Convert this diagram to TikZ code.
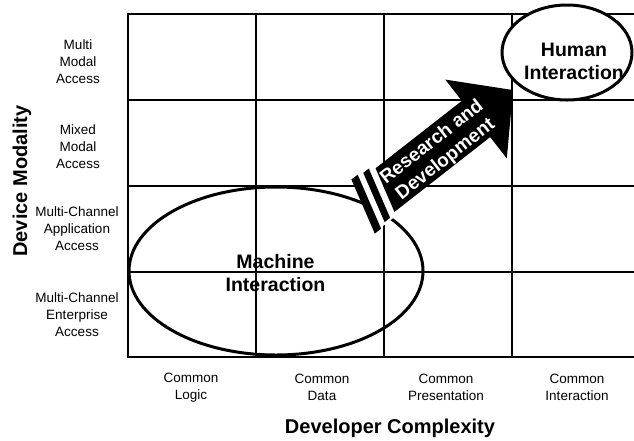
\documentclass[tikz,border=0pt]{standalone}
\usepackage{fontspec}
\setmainfont{Liberation Sans}
\usetikzlibrary{shapes.geometric}
\tikzset{
  gridline/.style={line width=2.6pt, line cap=rect},
  ring/.style={draw, ellipse, line width=3pt, inner sep=0pt},
  axislabel/.style={font=\fontsize{13.5}{17}\selectfont, align=center, inner sep=0pt},
  biglabel/.style={font=\fontsize{19.5}{23}\selectfont\bfseries, align=center, inner sep=0pt},
  arrowtext/.style={font=\fontsize{19}{22}\selectfont\bfseries, text=white, align=center, inner sep=0pt},
}
\begin{document}
\begin{tikzpicture}[x=1pt,y=-1pt]
\useasboundingbox (0,0) rectangle (634,440);
% grid
\foreach \yy in {14,100,186,272,357} \draw[gridline] (128,\yy) -- (634,\yy);
\foreach \xx in {128,256,384,512} \draw[gridline] (\xx,14) -- (\xx,357);
% ellipses
\node[ring, minimum width=294pt, minimum height=168pt] (machine) at (276,271) {};
\node[ring, fill=white, minimum width=130pt, minimum height=95pt] (human) at (567,52.5) {};
% arrow
\begin{scope}[shift={(384.6,190.4)}, rotate=38]
  \fill[white] (-12,-27) -- (8,-27) -- (-7,27) -- (-30,27) -- cycle;
  \fill[black] (-19.5,-29) -- (-11.5,-29) -- (-26.3,28) -- (-34.3,28) -- cycle;
  \fill[black] (-6,-27) -- (1,-27) -- (-12.5,25) -- (-19.5,25) -- cycle;
  \fill[black] (6.5,-23) -- (116,-23) -- (116,-50) -- (163,0) -- (116,50) -- (116,23) -- (-5.5,23) -- cycle;
  \node[arrowtext, rotate=38] (rd) at (67,2.5) {Research and\\Development};
\end{scope}
% labels
\node[biglabel] (hi) at (574,61) {Human\\Interaction};
\node[biglabel] (mi) at (275.5,273.5) {Machine\\Interaction};
\node[biglabel, font=\fontsize{20}{24}\selectfont\bfseries] (dc) at (390,428) {Developer Complexity};
\node[biglabel, font=\fontsize{20}{24}\selectfont\bfseries, rotate=90] (dm) at (22,181) {Device Modality};
\node[axislabel] (r1) at (78,62) {Multi\\Modal\\Access};
\node[axislabel] (r2) at (78,147) {Mixed\\Modal\\Access};
\node[axislabel] (r3) at (77,229) {Multi-Channel\\Application\\Access};
\node[axislabel] (r4) at (77,315) {Multi-Channel\\Enterprise\\Access};
\node[axislabel] (c1) at (191,387.5) {Common\\Logic};
\node[axislabel] (c2) at (322,387.5) {Common\\Data};
\node[axislabel] (c3) at (446,387.5) {Common\\Presentation};
\node[axislabel] (c4) at (577,387.5) {Common\\Interaction};
\end{tikzpicture}
\end{document}
